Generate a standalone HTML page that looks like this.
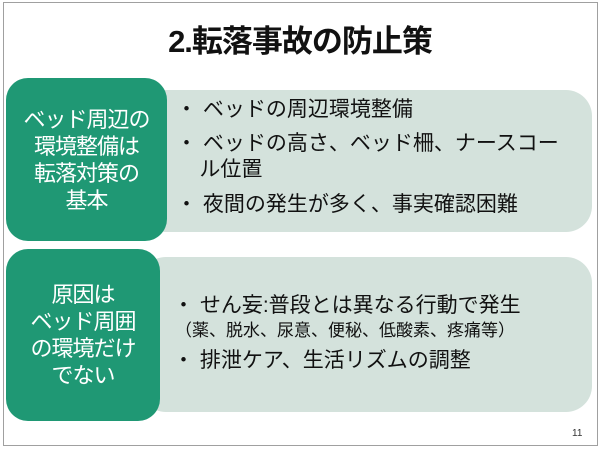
<!DOCTYPE html>
<html><head><meta charset="utf-8"><style>
body{margin:0;width:600px;height:450px;background:#fff;position:relative;overflow:hidden;font-family:"Liberation Sans","Noto Sans CJK JP",sans-serif}
.frame{position:absolute;left:3px;top:2px;width:593px;height:442px;border:1px solid #a0a0a0}
.t{position:absolute;left:0;width:600px;top:16px;text-align:center;font-size:31px;font-weight:bold;color:#111;letter-spacing:-1px}
.g{position:absolute;background:#1f9874;border-radius:22px;color:#fff;font-size:22px;line-height:27px;text-align:center;display:flex;align-items:center;justify-content:center;letter-spacing:-1px}
.l{position:absolute;background:#d4e2dc;border-radius:26px}
.tx{position:absolute;font-size:21px;color:#111;line-height:26px;white-space:nowrap}
</style></head><body>
<div class="frame"></div>
<div class="t">2.転落事故の防止策</div>
<div class="l" style="left:140px;top:90px;width:452px;height:142px"></div>
<div class="g" style="left:6px;top:78px;width:161px;height:163px">ベッド周辺の<br>環境整備は<br>転落対策の<br>基本</div>
<div class="tx" style="left:176px;top:97px">・ ベッドの周辺環境整備</div>
<div class="tx" style="left:176px;top:131px">・ ベッドの高さ、ベッド柵、ナースコー</div>
<div class="tx" style="left:176px;top:157px">&nbsp;&nbsp;&nbsp;&nbsp;ル位置</div>
<div class="tx" style="left:176px;top:192px">・ 夜間の発生が多く、事実確認困難</div>
<div class="l" style="left:140px;top:257px;width:452px;height:155px"></div>
<div class="g" style="left:6px;top:249px;width:154px;height:172px">原因は<br>ベッド周囲<br>の環境だけ<br>でない</div>
<div class="tx" style="left:173px;top:293px">・ せん妄:普段とは異なる行動で発生</div>
<div class="tx" style="left:175px;top:320px;font-size:17px;line-height:22px">（薬、脱水、尿意、便秘、低酸素、疼痛等）</div>
<div class="tx" style="left:173px;top:348px">・ 排泄ケア、生活リズムの調整</div>
<div style="position:absolute;left:572px;top:428px;font-size:10px;color:#333">11</div>
</body></html>
